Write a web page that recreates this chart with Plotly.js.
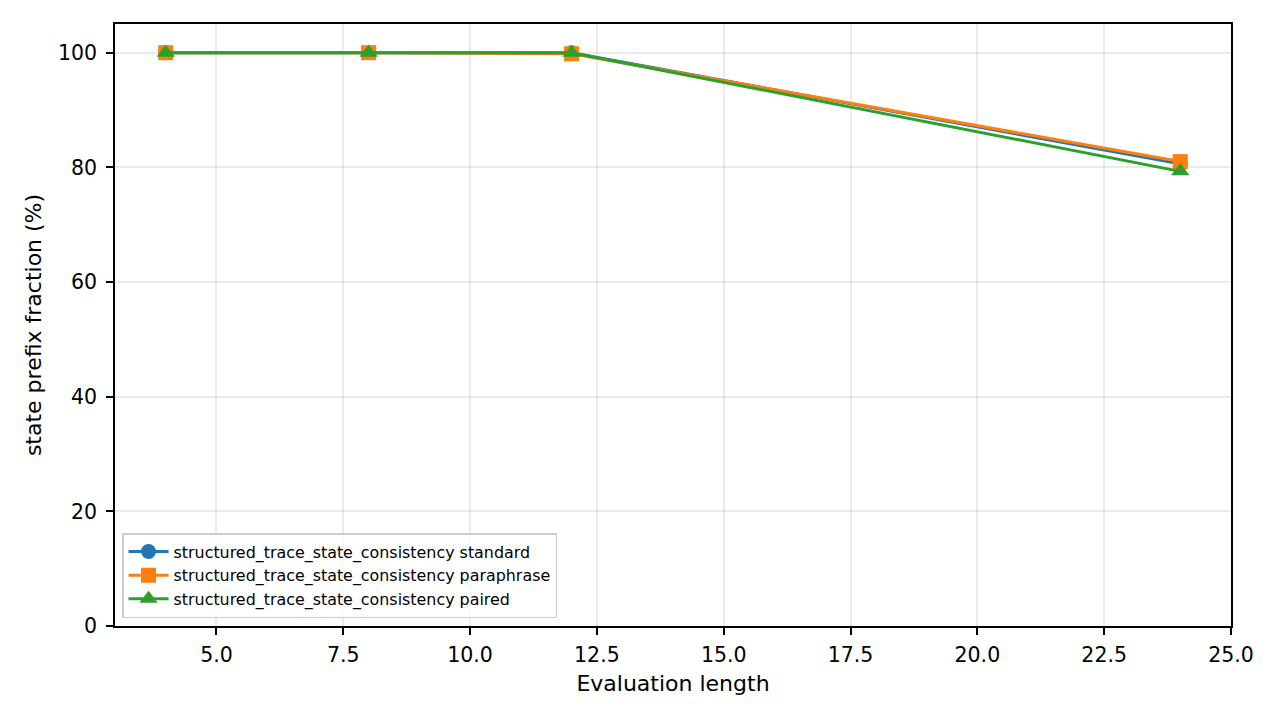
<!DOCTYPE html>
<html>
<head>
<meta charset="utf-8">
<script src="https://cdn.plot.ly/plotly-3.0.1.min.js"></script>
<style>
  html, body { margin: 0; padding: 0; background: #fff; }
  #chart { width: 1280px; height: 720px; }
</style>
</head>
<body>
<div id="chart"></div>
<script>
const lengths = [4, 8, 12, 24];
const standard = [100, 100, 100, 80.6];
const paraphrase = [100, 100, 99.8, 81.0];
const paired = [100, 100, 100, 79.3];
const seriesNames = [
    'structured_trace_state_consistency standard',
    'structured_trace_state_consistency paraphrase',
    'structured_trace_state_consistency paired'
];
const xTicks = [5, 7.5, 10, 12.5, 15, 17.5, 20, 22.5, 25];
const xTickText = ['5.0', '7.5', '10.0', '12.5', '15.0', '17.5', '20.0', '22.5', '25.0'];
const yTicks = [0, 20, 40, 60, 80, 100];

function makeTrace(y, name, color, symbol, size) {
    return {
        x: lengths,
        y: y,
        name: name,
        mode: 'lines+markers',
        line: {color: color, width: 3},
        marker: {color: color, symbol: symbol, size: size},
        cliponaxis: false
    };
}

const data = [
    makeTrace(standard, seriesNames[0], '#1f77b4', 'circle', 15),
    makeTrace(paraphrase, seriesNames[1], '#ff7f0e', 'square', 15),
    makeTrace(paired, seriesNames[2], '#2ca02c', 'triangle-up', 16)
];

const axisCommon = {
    showline: true,
    linecolor: '#000',
    linewidth: 1.7,
    mirror: true,
    ticks: 'outside',
    ticklen: 7,
    tickwidth: 1.7,
    tickcolor: '#000',
    showgrid: true,
    gridcolor: 'rgba(0,0,0,0.08)',
    gridwidth: 1.5,
    zeroline: false,
    tickfont: {size: 20.5, color: '#000'}
};

const layout = {
    width: 1280,
    height: 720,
    margin: {l: 115, r: 49, t: 24, b: 94},
    paper_bgcolor: '#fff',
    plot_bgcolor: '#fff',
    font: {family: 'DejaVu Sans, sans-serif', color: '#000'},
    xaxis: Object.assign({}, axisCommon, {
        range: [3, 25],
        tickvals: xTicks,
        ticktext: xTickText,
        ticklabelstandoff: 3,
        title: {text: 'Evaluation length', font: {size: 22}, standoff: 9}
    }),
    yaxis: Object.assign({}, axisCommon, {
        range: [0, 105],
        tickvals: yTicks,
        ticklabelstandoff: 5,
        title: {text: 'state prefix fraction (%)', font: {size: 22}, standoff: 10}
    }),
    showlegend: true,
    legend: {
        x: 0.0063,
        y: 0.013,
        xanchor: 'left',
        yanchor: 'bottom',
        bgcolor: 'rgba(255,255,255,0.8)',
        bordercolor: '#cccccc',
        borderwidth: 1.5,
        font: {size: 15.9},
        itemwidth: 40
    }
};

const config = {displayModeBar: false, responsive: false};
Plotly.newPlot('chart', data, layout, config);
</script>
</body>
</html>
